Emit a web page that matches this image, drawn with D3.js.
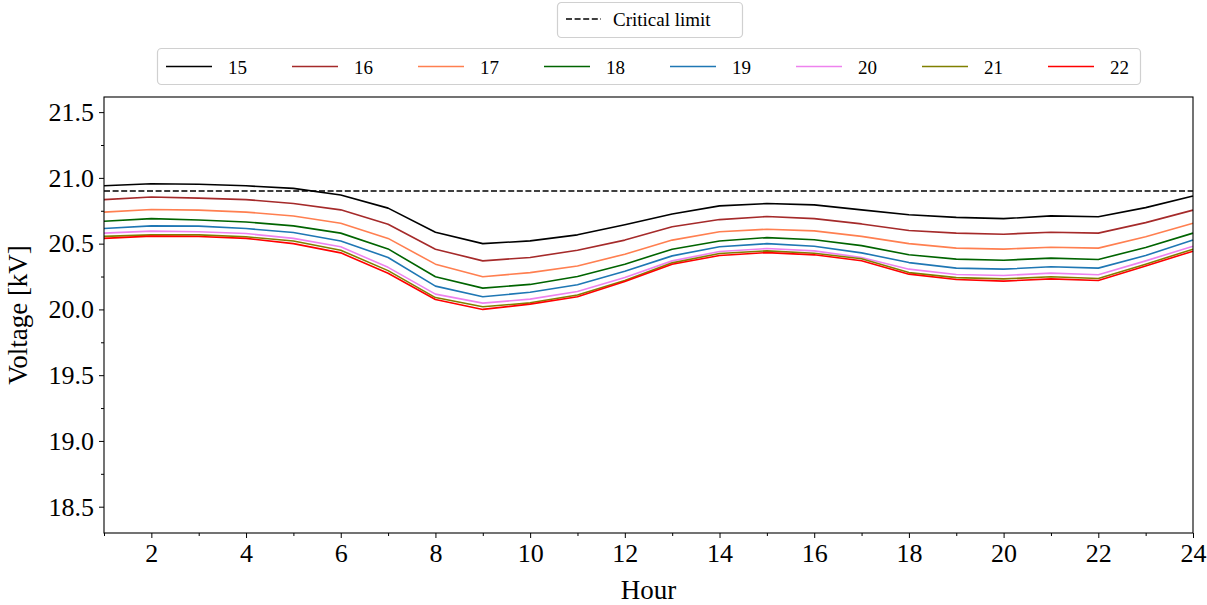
<!DOCTYPE html>
<html><head><meta charset="utf-8">
<script src="https://d3js.org/d3.v7.min.js"></script>
<style>
body{margin:0;background:#fff;}
text{font-family:"Liberation Serif","DejaVu Serif",serif;fill:#000;}
</style></head>
<body><svg id="c" width="1207" height="605"></svg>
<script>
const hours = d3.range(1, 25);
const seriesNames = ["15","16","17","18","19","20","21","22"];
const seriesColors = ["#000000","#a52a2a","#ff7f50","#006400","#1f77b4","#ee82ee","#808000","#ff0000"];
const s15 = [20.94,20.955,20.952,20.94,20.92,20.87,20.77,20.587,20.50,20.521,20.567,20.643,20.726,20.787,20.805,20.795,20.757,20.72,20.70,20.69,20.711,20.704,20.774,20.863];
const s16 = [20.835,20.855,20.846,20.835,20.805,20.757,20.648,20.458,20.369,20.395,20.45,20.527,20.628,20.683,20.706,20.69,20.65,20.60,20.58,20.572,20.587,20.58,20.66,20.755];
const s17 = [20.74,20.76,20.755,20.74,20.71,20.655,20.54,20.344,20.248,20.28,20.33,20.42,20.527,20.59,20.61,20.597,20.555,20.50,20.466,20.458,20.473,20.466,20.552,20.655];
const s18 = [20.67,20.69,20.68,20.665,20.635,20.58,20.46,20.248,20.162,20.19,20.25,20.344,20.458,20.52,20.546,20.53,20.485,20.415,20.382,20.374,20.39,20.38,20.47,20.58];
const s19 = [20.615,20.635,20.633,20.615,20.585,20.52,20.395,20.177,20.096,20.13,20.187,20.29,20.407,20.476,20.50,20.48,20.43,20.356,20.314,20.306,20.324,20.314,20.41,20.527];
const s20 = [20.58,20.595,20.59,20.577,20.54,20.476,20.32,20.116,20.048,20.078,20.136,20.243,20.369,20.44,20.463,20.445,20.395,20.306,20.265,20.258,20.276,20.263,20.369,20.48];
const s21 = [20.555,20.567,20.567,20.552,20.52,20.45,20.295,20.09,20.02,20.05,20.11,20.22,20.354,20.425,20.445,20.427,20.385,20.28,20.242,20.232,20.248,20.235,20.344,20.458];
const s22 = [20.54,20.557,20.554,20.54,20.50,20.43,20.275,20.075,20.0,20.04,20.096,20.212,20.344,20.41,20.432,20.415,20.37,20.268,20.227,20.215,20.232,20.22,20.33,20.443];
const seriesValues = [s15,s16,s17,s18,s19,s20,s21,s22];
const criticalLimit = 20.9;
const xTicks = [2,4,6,8,10,12,14,16,18,20,22,24];
const yTicks = [18.5,19.0,19.5,20.0,20.5,21.0,21.5];
const yMinor = [18.75,19.25,19.75,20.25,20.75,21.25];

const svg = d3.select("#c");
const L = 104, R = 1193, T = 97, B = 533;
const x = d3.scaleLinear().domain([1,24]).range([L,R]);
const y = d3.scaleLinear().domain([18.3,21.615]).range([B,T]);

const g = svg.append("g");
// lines
const line = d3.line().x((d,i)=>x(hours[i])).y(d=>y(d));
g.append("line").attr("x1",x(1)).attr("x2",x(24)).attr("y1",y(criticalLimit)).attr("y2",y(criticalLimit))
  .attr("stroke","#000").attr("stroke-width",1.6).attr("stroke-dasharray","6,2.6");
seriesValues.forEach((vals,k)=>{
  g.append("path").datum(vals).attr("d",line).attr("fill","none")
   .attr("stroke",seriesColors[k]).attr("stroke-width",1.6).attr("stroke-linejoin","round");
});

// axes
const xAxis = d3.axisBottom(x).tickValues(xTicks).tickFormat(d3.format("d")).tickSizeInner(5).tickSizeOuter(0).tickPadding(6);
const xMin = d3.axisBottom(x).tickValues(d3.range(1,25).filter(h=>h%2===1)).tickFormat("").tickSizeInner(3).tickSizeOuter(0);
const yAxis = d3.axisLeft(y).tickValues(yTicks).tickFormat(d3.format(".1f")).tickSizeInner(5).tickSizeOuter(0).tickPadding(5);
const yMinA = d3.axisLeft(y).tickValues(yMinor).tickFormat("").tickSizeInner(3).tickSizeOuter(0);

function style(sel){
  sel.select(".domain").remove();
  sel.selectAll("line").attr("stroke","#000").attr("stroke-width",1);
  sel.selectAll("text").style("font-family",'"Liberation Serif","DejaVu Serif",serif').attr("font-size",26).attr("fill","#000");
}
svg.append("g").attr("transform",`translate(0,${B})`).call(xAxis).call(style);
svg.append("g").attr("transform",`translate(0,${B})`).call(xMin).call(style);
svg.append("g").attr("transform",`translate(${L},0)`).call(yAxis).call(style);
svg.append("g").attr("transform",`translate(${L},0)`).call(yMinA).call(style);

// frame
svg.append("rect").attr("x",L).attr("y",T).attr("width",R-L).attr("height",B-T)
  .attr("fill","none").attr("stroke","#000").attr("stroke-width",1.1);

// labels
svg.append("text").attr("x",(L+R)/2).attr("y",599).attr("text-anchor","middle").attr("font-size",27).text("Hour");
svg.append("text").attr("transform",`translate(27,${(T+B)/2}) rotate(-90)`).attr("text-anchor","middle").attr("font-size",27).text("Voltage [kV]");

// legend 1
const lg1 = svg.append("g");
lg1.append("rect").attr("x",557.5).attr("y",2.5).attr("width",185).attr("height",35).attr("rx",4)
  .attr("fill","#fff").attr("fill-opacity",0.8).attr("stroke","#d0d0d0").attr("stroke-width",1.2);
lg1.append("line").attr("x1",566).attr("x2",601).attr("y1",19).attr("y2",19)
  .attr("stroke","#000").attr("stroke-width",1.6).attr("stroke-dasharray","6,2.6");
lg1.append("text").attr("x",613).attr("y",25.5).attr("font-size",19).text("Critical limit");

// legend 2
const lg2 = svg.append("g");
lg2.append("rect").attr("x",157.5).attr("y",48.5).attr("width",983).attr("height",36).attr("rx",4)
  .attr("fill","#fff").attr("fill-opacity",0.8).attr("stroke","#d0d0d0").attr("stroke-width",1.2);
seriesNames.forEach((n,k)=>{
  const x0 = 166 + k*126;
  lg2.append("line").attr("x1",x0).attr("x2",x0+46).attr("y1",66.5).attr("y2",66.5)
    .attr("stroke",seriesColors[k]).attr("stroke-width",1.6);
  lg2.append("text").attr("x",x0+62).attr("y",73.5).attr("font-size",19).text(n);
});
</script></body></html>
